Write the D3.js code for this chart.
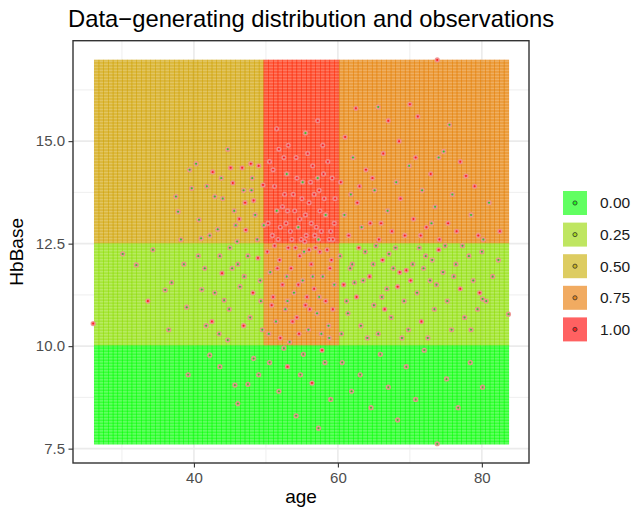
<!DOCTYPE html>
<html><head><meta charset="utf-8">
<script src="https://cdn.jsdelivr.net/npm/d3@7"></script>
<style>body{margin:0;background:#fff}svg{display:block}text{font-family:"Liberation Sans",Arial,Helvetica,sans-serif}</style>
</head><body><svg id="c" width="636" height="511"></svg>
<script>
// ---- data ----
const ageBreaks = [50, 60];
const hbBreaks = [10, 12.5];
// rows: Hb band (low -> high), cols: age band (low -> high)
const probTable = [[0, 0, 0], [0.21, 0.72, 0.21], [0.55, 0.97, 0.72]];
const tileAgeRange = [26.15, 83.75];
const tileHbRange = [7.61, 16.98];
const tileCols = 88, tileRows = 128;
const legendValues = [0, 0.25, 0.5, 0.75, 1];
const legendLabels = ["0.00", "0.25", "0.50", "0.75", "1.00"];
const xTicks = [40, 60, 80], xMinor = [30, 50, 70];
const yTicks = [7.5, 10, 12.5, 15], yMinor = [8.75, 11.25, 13.75, 16.25];
const yTickLabels = ["7.5", "10.0", "12.5", "15.0"];
// observations: [age, HbBase, outcome]
const observations = [
[26.0,10.55,1],[30.1,12.25,0],[32.0,11.98,0],[33.6,11.1,1],[34.3,12.35,0],[36.0,11.37,0],[36.9,11.55,0],[37.5,13.65,0],[37.8,13.28,0],[38.6,12.0,0],[39.0,10.95,0],[39.4,14.3,0],[39.7,13.85,0],[38.2,12.6,0],[36.5,10.4,0],[39.2,9.3,0],
[40.3,14.45,0],[40.7,13.08,0],[41.0,12.63,0],[42.6,14.25,1],[42.9,13.65,0],[43.3,12.85,0],[44.7,14.8,0],[45.1,14.35,1],[45.4,13.98,1],[45.6,13.3,0],[45.8,12.95,0],[46.0,12.55,0],[46.7,14.35,1],[46.9,13.8,0],[47.1,13.5,1],[47.2,12.83,1],[48.1,14.1,0],[48.3,13.55,1],[48.5,13.2,0],[48.8,12.6,0],[49.6,13.93,1],[49.7,12.95,0],[44.0,13.6,0],[41.8,13.9,0],[47.9,14.45,1],[43.8,14.1,0],[49.0,14.4,1],[42.2,12.7,0],[46.3,13.1,1],[48.0,13.8,0],
[40.6,12.2,0],[41.1,11.38,0],[41.7,10.5,0],[42.5,10.6,1],[43.6,12.2,0],[43.9,11.78,1],[44.2,11.12,0],[46.1,12.0,0],[46.4,11.45,0],[47.5,12.2,0],[47.8,10.7,0],[48.9,12.15,1],[49.2,11.6,0],[49.3,11.1,0],[46.9,10.5,1],[44.9,10.9,0],[42.9,11.3,0],[45.3,11.9,0],[48.2,11.3,1],[41.5,11.9,0],[43.5,10.3,0],[47.0,11.7,0],[45.0,12.4,0],[49.5,10.4,0],
[45.7,9.05,0],[46.1,8.6,0],[47.5,9.07,0],[48.3,9.7,0],[42.2,9.78,0],[44.7,10.15,0],[49.0,9.3,0],[43.6,9.5,0],
[50.5,14.5,1],[51.2,13.9,1],[51.8,14.8,1],[52.3,13.4,1],[52.9,14.2,0],[53.4,12.8,1],[53.8,13.7,1],[54.2,14.6,1],[54.7,13.1,1],[55.1,14.0,0],[55.6,12.7,1],[56.0,13.5,1],[56.5,14.4,1],[57.0,12.9,1],[57.4,13.8,1],[57.9,14.9,1],[58.3,13.2,0],[58.8,12.6,1],[59.2,14.1,1],[59.6,13.6,1],
[50.3,13.0,1],[50.9,12.7,1],[51.5,13.3,0],[52.0,12.9,1],[52.6,13.7,1],[53.1,14.9,1],[53.6,12.6,1],[54.0,13.3,1],[54.5,12.9,0],[55.0,13.6,1],[55.4,12.55,1],[55.8,14.7,1],[56.3,13.0,1],[56.8,12.7,1],[57.2,14.1,0],[57.7,12.8,1],[58.1,13.6,1],[58.6,14.5,1],[59.0,12.8,1],[59.5,13.0,1],
[51.0,14.3,1],[52.5,14.6,1],[54.3,14.1,1],[56.2,14.0,1],[58.0,14.2,1],[53.0,13.3,1],[55.5,13.2,1],[57.5,13.3,1],[51.7,12.6,1],[54.9,12.6,1],[57.3,12.6,0],[59.3,12.6,1],[52.8,13.0,1],[56.7,13.7,1],
[51.5,15.3,1],[55.5,15.2,0],[57.2,15.5,1],
[50.2,12.3,1],[50.6,11.8,0],[51.0,11.2,1],[51.4,10.6,0],[51.9,12.1,1],[52.3,11.5,1],[52.7,10.9,0],[53.1,12.4,1],[53.5,11.9,1],[53.9,11.3,0],[54.3,10.7,1],[54.7,12.2,1],[55.1,11.6,0],[55.5,11.0,1],[55.9,10.4,0],[56.3,12.0,1],[56.7,11.4,1],[57.1,10.8,0],[57.5,12.3,1],[57.9,11.7,0],[58.3,11.1,1],[58.7,10.5,0],[59.1,12.1,1],[59.5,11.5,0],
[50.4,10.3,0],[51.2,12.45,1],[52.0,10.2,1],[52.9,11.7,0],[53.7,10.6,1],[54.5,11.5,1],[55.3,12.3,0],[56.1,10.9,1],[56.9,12.4,1],[57.7,10.3,0],[58.5,12.35,1],[59.3,10.9,1],[50.8,11.0,1],[53.3,10.1,0],[54.1,12.4,1],[56.5,11.7,0],[58.9,11.9,1],[55.7,11.2,1],
[51.6,11.9,1],[53.0,11.1,0],[54.6,10.3,1],[56.0,12.35,1],[57.4,11.2,0],[58.8,10.2,0],
[50.5,9.6,0],[51.8,8.9,0],[53.0,9.5,1],[54.2,8.3,0],[55.2,9.8,0],[56.4,9.1,1],[57.3,8.0,0],[58.2,9.6,0],[59.0,8.7,0],[52.5,9.95,0],[54.8,9.3,0],[57.8,9.9,1],
[60.4,14.0,1],[60.9,13.2,0],[61.5,12.7,1],[62.1,14.6,0],[62.7,13.5,1],[63.3,12.9,0],[63.9,14.3,1],[64.5,13.0,1],[65.1,13.8,0],[65.7,12.6,1],[66.3,14.7,1],[66.9,13.3,0],[67.5,12.8,1],[68.1,14.0,0],[68.7,13.6,1],[69.3,12.7,1],[69.9,14.4,0],[70.5,13.1,1],[71.1,15.6,1],[71.7,13.8,0],[72.3,12.9,1],[72.9,14.2,1],[73.5,13.4,0],[74.1,12.6,1],[74.7,14.75,0],[75.3,13.0,1],[75.9,13.7,0],[76.5,12.8,1],[77.8,14.15,1],[78.5,13.2,0],[79.5,12.7,1],[81.0,13.5,0],[82.5,12.8,1],
[61.0,15.1,1],[65.6,15.83,0],[67.0,15.5,1],[70.0,15.9,1],[73.8,16.98,1],[75.5,15.4,0],[68.5,15.0,1],[62.5,15.8,1],[64.8,14.1,1],[61.8,13.7,0],[66.0,13.0,1],[70.8,14.6,1],[73.0,13.0,0],[77.0,14.5,1],[79.0,13.9,1],[80.2,12.6,0],[63.0,13.9,1],[71.5,12.7,1],[74.0,14.6,0],
[60.3,12.2,0],[60.8,11.5,1],[61.4,10.8,0],[62.0,12.0,0],[62.6,11.2,1],[63.2,10.5,0],[63.8,12.3,0],[64.4,11.7,1],[65.0,11.0,0],[65.6,10.3,0],[66.2,12.1,1],[66.8,11.4,0],[67.4,10.7,0],[68.0,12.4,0],[68.6,11.8,1],[69.2,11.1,0],[69.8,10.4,0],[70.4,12.0,0],[71.0,11.3,0],[71.6,10.6,1],[72.2,12.2,0],[72.8,11.6,0],[73.4,10.9,0],[74.0,12.35,1],[74.6,11.8,0],[75.2,11.1,0],[75.8,10.4,0],[76.4,12.0,0],[77.0,11.4,1],[77.6,10.7,0],[78.2,12.2,0],[78.8,11.6,0],[79.4,10.9,0],[80.0,12.3,0],[80.6,11.1,0],[81.5,11.7,0],[83.7,10.78,0],[82.3,12.1,0],
[60.5,10.3,0],[61.7,11.9,0],[62.9,12.4,1],[64.1,10.2,0],[65.3,12.45,0],[66.5,10.9,1],[67.7,11.9,0],[68.9,10.2,0],[70.1,11.6,1],[71.3,12.4,0],[72.5,10.2,0],[73.7,11.5,0],[74.9,12.45,0],[76.1,11.7,0],[77.3,12.45,0],[78.5,10.4,0],[79.7,11.3,1],[61.2,11.1,0],[63.5,11.6,0],[67.1,12.25,0],[69.5,11.85,1],
[62.3,11.55,0],[64.9,12.0,0],[66.1,11.2,0],[68.3,11.45,1],[71.9,11.9,0],[73.1,12.1,0],[80.1,11.15,0],
[60.6,9.6,0],[61.9,8.9,0],[63.1,9.3,0],[64.6,8.5,0],[65.9,9.8,0],[67.0,9.0,0],[68.3,8.2,0],[69.5,9.5,0],[70.8,8.7,0],[72.0,9.9,0],[73.8,7.62,0],[75.1,9.2,0],[76.7,8.5,0],[78.4,9.6,0],[80.1,9.0,0]
];

// ---- layout ----
const P = {l: 73, r: 529, t: 40.7, b: 463};
const FONT = '"Liberation Sans",Arial,sans-serif';
const svg = d3.select("#c");
const x = d3.scaleLinear().domain([23.2, 86.55]).range([P.l, P.r]);
const y = d3.scaleLinear().domain([7.15, 17.45]).range([P.b, P.t]);
const colorOf = d3.interpolateLab("#00ff00", "#ff0000");
const bandIndex = (v, breaks) => breaks.filter(b => v >= b).length;
const probAt = (a, h) => probTable[bandIndex(h, hbBreaks)][bandIndex(a, ageBreaks)];

// panel background + grid
svg.append("rect").attr("x", P.l).attr("y", P.t).attr("width", P.r - P.l).attr("height", P.b - P.t).attr("fill", "#fff");
const grid = svg.append("g");
xMinor.forEach(v => grid.append("line").attr("x1", x(v)).attr("x2", x(v)).attr("y1", P.t).attr("y2", P.b).attr("stroke", "#ebebeb").attr("stroke-width", 0.8));
yMinor.forEach(v => grid.append("line").attr("y1", y(v)).attr("y2", y(v)).attr("x1", P.l).attr("x2", P.r).attr("stroke", "#ebebeb").attr("stroke-width", 0.8));
xTicks.forEach(v => grid.append("line").attr("x1", x(v)).attr("x2", x(v)).attr("y1", P.t).attr("y2", P.b).attr("stroke", "#ebebeb").attr("stroke-width", 1.6));
yTicks.forEach(v => grid.append("line").attr("y1", y(v)).attr("y2", y(v)).attr("x1", P.l).attr("x2", P.r).attr("stroke", "#ebebeb").attr("stroke-width", 1.6));

// tiles
const tw = (tileAgeRange[1] - tileAgeRange[0]) / tileCols;
const th = (tileHbRange[1] - tileHbRange[0]) / tileRows;
const tiles = [];
for (let i = 0; i < tileCols; i++) for (let j = 0; j < tileRows; j++) {
  const a = tileAgeRange[0] + (i + 0.5) * tw, h = tileHbRange[0] + (j + 0.5) * th;
  tiles.push({a, h, p: probAt(a, h)});
}
const pxW = x(tw) - x(0), pxH = y(0) - y(th);
svg.append("g").selectAll("rect").data(tiles).join("rect")
  .attr("x", d => x(d.a) - pxW / 2).attr("y", d => y(d.h) - pxH / 2)
  .attr("width", pxW).attr("height", pxH)
  .attr("fill", d => colorOf(d.p)).attr("fill-opacity", 0.62)
  .attr("stroke", d => colorOf(d.p)).attr("stroke-opacity", 0.72).attr("stroke-width", 0.5);

// points
svg.append("g").selectAll("circle").data(observations).join("circle")
  .attr("cx", d => x(d[0])).attr("cy", d => y(d[1])).attr("r", 1.8)
  .attr("fill", d => d[2] ? "#ff2020" : "#2ecc2e")
  .attr("stroke", "#f09090").attr("stroke-opacity", 0.9).attr("stroke-width", 1.6);

// border
svg.append("rect").attr("x", P.l).attr("y", P.t).attr("width", P.r - P.l).attr("height", P.b - P.t)
  .attr("fill", "none").attr("stroke", "#333").attr("stroke-width", 1.4);

// axes
const ax = svg.append("g").attr("transform", `translate(0,${P.b})`)
  .call(d3.axisBottom(x).tickValues(xTicks).tickSize(4.5).tickPadding(4.5));
const ay = svg.append("g").attr("transform", `translate(${P.l},0)`)
  .call(d3.axisLeft(y).tickValues(yTicks).tickFormat((d, i) => yTickLabels[i]).tickSize(4.5).tickPadding(3.5));
[ax, ay].forEach(g => {
  g.select(".domain").remove();
  g.selectAll(".tick line").attr("stroke", "#333").attr("stroke-width", 1.1);
  g.selectAll(".tick text").attr("fill", "#4d4d4d").style("font-size", "15px").style("font-family", FONT);
});

// titles
svg.append("text").attr("x", 68).attr("y", 27).style("font-size", "23.8px").attr("fill", "#000")
  .text("Data\u2212generating distribution and observations");
svg.append("text").attr("x", (P.l + P.r) / 2).attr("y", 503).attr("text-anchor", "middle").style("font-size", "19px").text("age");
svg.append("text").attr("transform", `translate(23,${(P.t + P.b) / 2}) rotate(-90)`).attr("text-anchor", "middle").style("font-size", "19px").text("HbBase");

// legend
const lg = svg.append("g");
legendValues.forEach((v, i) => {
  const top = 191 + i * 31.6;
  lg.append("rect").attr("x", 563).attr("y", top).attr("width", 24).attr("height", 24)
    .attr("fill", colorOf(v)).attr("fill-opacity", 0.62);
  lg.append("circle").attr("cx", 575).attr("cy", top + 12).attr("r", 2.1)
    .attr("fill", colorOf(v)).attr("fill-opacity", 0.7).attr("stroke", "#333").attr("stroke-width", 0.8);
  lg.append("text").attr("x", 600).attr("y", top + 12).attr("dy", "0.35em").style("font-size", "15.5px").attr("fill", "#1a1a1a").text(legendLabels[i]);
});
</script></body></html>
